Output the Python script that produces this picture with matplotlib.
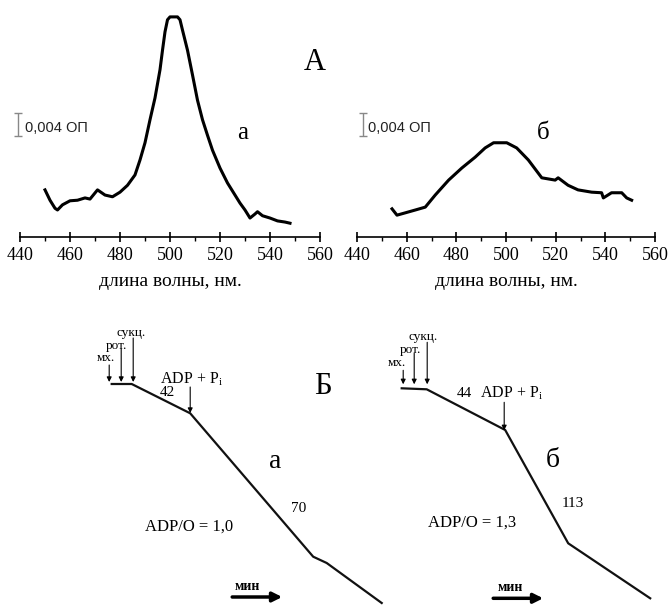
import matplotlib
matplotlib.use('Agg')
import matplotlib.pyplot as plt
from matplotlib.ticker import MultipleLocator

plt.rcParams['font.family'] = ['Liberation Serif', 'DejaVu Serif']
plt.rcParams['mathtext.fontset'] = 'custom'
plt.rcParams['mathtext.rm'] = 'Liberation Serif'
plt.rcParams['mathtext.it'] = 'Liberation Serif:italic'

#spectrum a (wavelength nm, delta OD in units of 0.001)
wl_a = [450, 452, 454, 455, 457, 460, 463, 466, 468, 471, 474, 477, 480, 483, 486, 488,
        490, 492, 494, 496, 497, 498, 499, 500, 503, 504, 505, 507, 509, 511, 513, 515,
        517, 520, 523, 526, 528, 530, 532, 534, 535, 537, 540, 543, 546, 548]
od_a = [8.2, 6.4, 5.0, 4.7, 5.6, 6.3, 6.4, 6.8, 6.6, 8.2, 7.3, 7.0, 7.8, 9.0, 10.8, 13.4,
        16.4, 20.4, 24.2, 29.1, 32.5, 35.7, 37.8, 38.3, 38.3, 37.8, 36.0, 32.5, 28.2, 23.8, 20.4, 17.7,
        15.1, 12.0, 9.4, 7.3, 5.9, 4.7, 3.3, 4.0, 4.4, 3.7, 3.3, 2.8, 2.6, 2.4]

#spectrum b
wl_b = [454.1, 456.1, 459.4, 463.5, 467.5, 471.5, 476.9, 482.2, 487.6, 491.6, 495, 500.3, 504.3,
        509, 514.4, 519.8, 521, 525, 529, 534.5, 538.5, 539.2, 542.5, 546.6, 548.6, 550.6]
od_b = [4.9, 3.8, 4.2, 4.7, 5.2, 7.3, 9.9, 12.0, 13.9, 15.5, 16.4, 16.4, 15.5,
        13.4, 10.3, 9.9, 10.3, 9.0, 8.2, 7.8, 7.7, 6.8, 7.7, 7.7, 6.8, 6.4]

#oxygen traces (time in min, O2 consumed in arbitrary units)
time_a = [0, 0.4, 1.57, 4.03, 4.3, 5.4]
o2_a = [0, 0, 2.93, 17.27, 17.9, 21.9]
time_b = [0, 0.5, 2.07, 3.33, 4.97]
o2_b = [0, 0.1, 4.17, 15.5, 21.0]

W, H = 670, 605
fig = plt.figure(figsize=(W / 100, H / 100), dpi=100)

def px_axes(x0, y0, x1, y1):
    #axes from pixel box (top-left origin)
    return fig.add_axes([x0 / W, 1 - y1 / H, (x1 - x0) / W, (y1 - y0) / H])

def spectrum_axes(ax):
    ax.set_xlim(440, 560)
    ax.set_ylim(0, 39.5)
    for s in ['top', 'right', 'left']:
        ax.spines[s].set_visible(False)
    ax.spines['bottom'].set_linewidth(1.2)
    ax.set_yticks([])
    ax.xaxis.set_major_locator(MultipleLocator(20))
    ax.xaxis.set_minor_locator(MultipleLocator(10))
    ax.tick_params(axis='x', which='major', direction='inout', length=7, width=1.2, labelsize=13, pad=4)
    ax.tick_params(axis='x', which='minor', direction='out', length=3, width=1)
    ax.set_xlabel('длина волны, нм.', fontsize=14, labelpad=6)
    ax.patch.set_alpha(0)

#top spectra
ax1 = px_axes(20, 10, 320, 237)
ax1.plot(wl_a, od_a, color='black', lw=2.2)
spectrum_axes(ax1)
ax1.errorbar([439.2], [19.6], yerr=2, color='#888888', capsize=3, lw=1, clip_on=False)
ax1.text(442, 19.0, '0,004 ОП', family='Liberation Sans', fontsize=10.5, color='#222222', va='center')
ax1.text(529, 18.1, 'а', fontsize=18, ha='center', va='center')

ax2 = px_axes(357, 10, 655, 237)
ax2.plot(wl_b, od_b, color='black', lw=2.2)
spectrum_axes(ax2)
ax2.errorbar([442.3], [19.6], yerr=2, color='#888888', capsize=3, lw=1, clip_on=False)
ax2.text(444.5, 19.0, '0,004 ОП', family='Liberation Sans', fontsize=10.5, color='#222222', va='center')
ax2.text(515, 18.1, 'б', fontsize=18, ha='center', va='center')

fig.text(315 / W, 1 - 63 / H, 'А', fontsize=22, ha='center', va='center')
fig.text(323 / W, 1 - 387 / H, 'Б', fontsize=22, ha='center', va='center')

def arrow(ax, x0, y0, x1, y1, lw=0.8, ms=7):
    ax.annotate('', xy=(x1, y1), xytext=(x0, y0),
                arrowprops=dict(arrowstyle='-|>', lw=lw, color='black', mutation_scale=ms,
                                shrinkA=0, shrinkB=0))

def trace_axes(ax):
    ax.axis('off')
    ax.patch.set_alpha(0)

#bottom oxygen traces
ax3 = px_axes(60, 300, 390, 605)
ax3.set_xlim(-1.034, 5.566)
ax3.set_ylim(22.1, -8.4)
trace_axes(ax3)
ax3.plot(time_a, o2_a, color='#111111', lw=1.6, clip_on=False)
arrow(ax3, -0.05, -1.9, -0.05, -0.2)
arrow(ax3, 0.19, -3.5, 0.19, -0.2)
arrow(ax3, 0.43, -4.6, 0.43, -0.2)
ax3.text(-0.11, -2.6, 'мх.', fontsize=9.5, ha='center', va='center')
ax3.text(0.09, -3.8, 'рот.', fontsize=9.5, ha='center', va='center')
ax3.text(0.39, -5.1, 'сукц.', fontsize=9.5, ha='center', va='center')
ax3.text(0.97, -0.5, r'ADP + P$_\mathrm{i}$', fontsize=11.5, ha='left', va='center')
ax3.text(0.97, 0.9, '42', fontsize=11, ha='left', va='center')
arrow(ax3, 1.57, 0.3, 1.57, 2.9)
ax3.text(3.27, 7.8, 'а', fontsize=20, ha='center', va='center')
ax3.text(3.73, 12.4, '70', fontsize=11, ha='center', va='center')
ax3.text(0.67, 14.3, 'ADP/O = 1,0', fontsize=12, ha='left', va='center')
ax3.text(2.71, 20.3, 'мин', fontsize=10, ha='center', va='center', fontweight='bold')
arrow(ax3, 2.41, 21.3, 3.41, 21.3, lw=2.5, ms=14)

ax4 = px_axes(370, 300, 670, 605)
ax4.set_xlim(-0.634, 5.366)
ax4.set_ylim(21.67, -8.83)
trace_axes(ax4)
ax4.plot(time_b, o2_b, color='#111111', lw=1.6, clip_on=False)
arrow(ax4, 0.03, -1.8, 0.03, -0.4)
arrow(ax4, 0.25, -3.5, 0.25, -0.4)
arrow(ax4, 0.51, -4.6, 0.51, -0.4)
ax4.text(-0.09, -2.5, 'мх.', fontsize=9.5, ha='center', va='center')
ax4.text(0.17, -3.8, 'рот.', fontsize=9.5, ha='center', va='center')
ax4.text(0.43, -5.1, 'сукц.', fontsize=9.5, ha='center', va='center')
ax4.text(1.11, 0.5, '44', fontsize=11, ha='left', va='center')
ax4.text(1.57, 0.5, r'ADP + P$_\mathrm{i}$', fontsize=11.5, ha='left', va='center')
arrow(ax4, 2.05, 1.4, 2.05, 4.2)
ax4.text(3.03, 7.2, 'б', fontsize=20, ha='center', va='center')
ax4.text(3.43, 11.5, '113', fontsize=11, ha='center', va='center')
ax4.text(0.53, 13.4, 'ADP/O = 1,3', fontsize=12, ha='left', va='center')
ax4.text(2.17, 19.9, 'мин', fontsize=10, ha='center', va='center', fontweight='bold')
arrow(ax4, 1.83, 21.0, 2.83, 21.0, lw=2.5, ms=14)

fig.savefig('out.png', dpi=100)
plt.close()
